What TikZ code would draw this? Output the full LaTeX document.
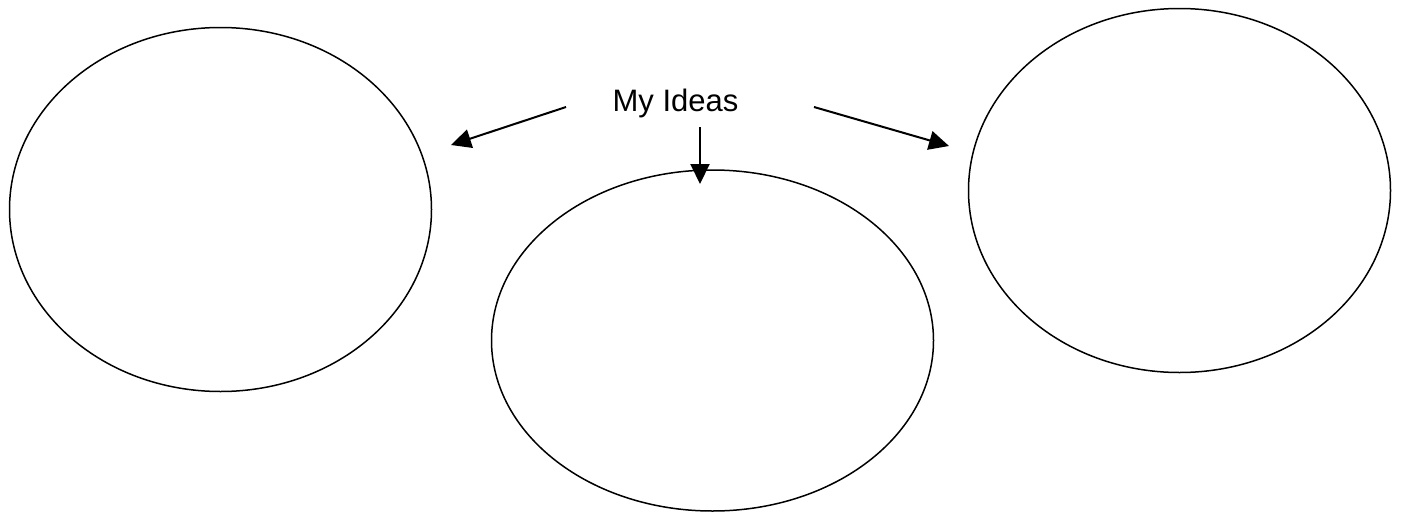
\documentclass[tikz,border=0pt]{standalone}
\usepackage{fontspec}
\setmainfont{Liberation Sans}
\usetikzlibrary{shapes.geometric,arrows.meta}
\begin{document}
\begin{tikzpicture}[x=1pt,y=-1pt,
  bubble/.style={draw,ellipse,line width=1.5pt,inner sep=0pt},
  link/.style={-{Triangle[length=20pt,width=19pt]},line width=2pt}]
\useasboundingbox (0,0) rectangle (1403,512);
\node[font=\fontsize{31}{37}\selectfont,anchor=base] (title) at (675.5,111) {My Ideas};
% bubbles
\node[bubble,minimum width=422pt,minimum height=364pt] (left) at (220.5,209.5) {};
\node[bubble,minimum width=442pt,minimum height=341pt] (mid) at (712.5,340.5) {};
\node[bubble,minimum width=422pt,minimum height=364pt] (right) at (1179.5,190.5) {};
% arrow ends
\coordinate (ls) at (566,107);
\coordinate (lt) at (451,145);
\coordinate (ms) at (700,127);
\coordinate (mt) at (700,184);
\coordinate (rs) at (814,107);
\coordinate (rt) at (949,146);
\draw[link] (ls)--(lt);
\draw[link] (ms)--(mt);
\draw[link] (rs)--(rt);
\end{tikzpicture}
\end{document}
